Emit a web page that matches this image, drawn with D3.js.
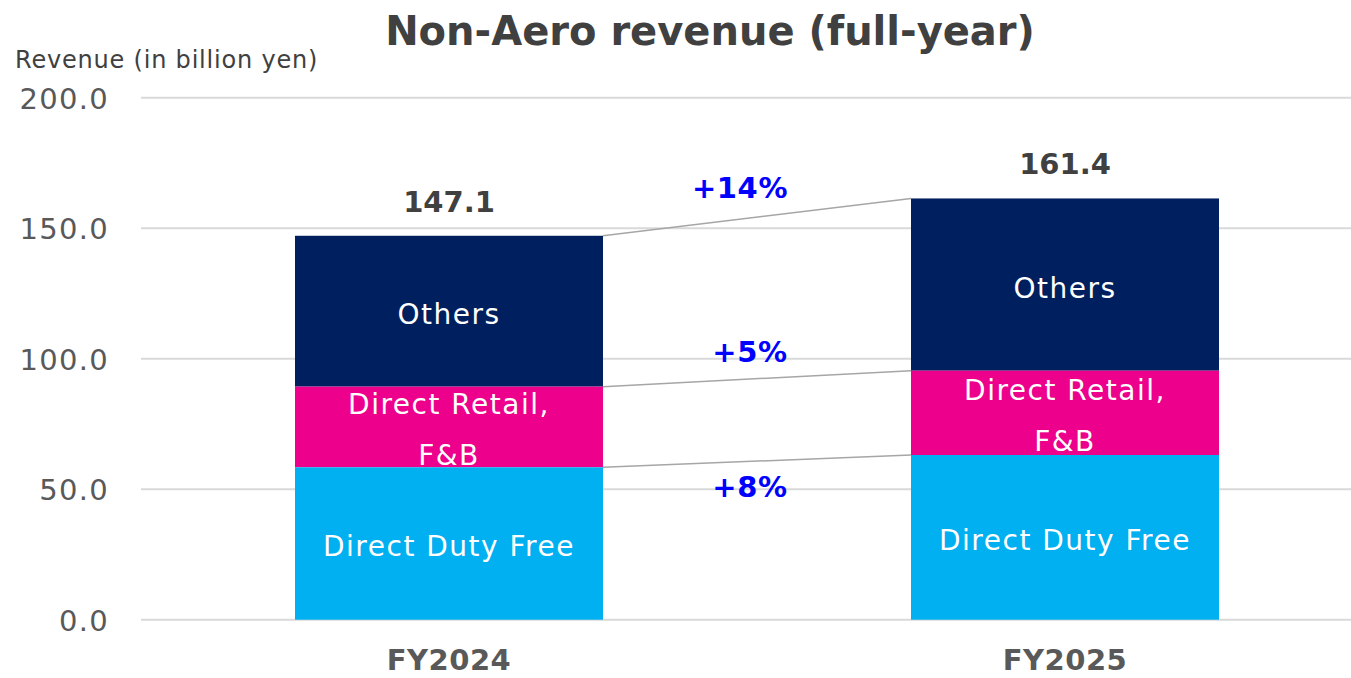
<!DOCTYPE html>
<html>
<head>
<meta charset="utf-8">
<script src="https://cdn.jsdelivr.net/npm/d3@7"></script>
<style>
  body { margin: 0; background: #fff; }
  text { font-family: "DejaVu Sans", Verdana, sans-serif; }
</style>
</head>
<body>
<div id="chart"></div>
<script>
// data
var years = ["FY2024", "FY2025"];
var segments = ["Direct Duty Free", "Direct Retail, F&B", "Others"];
var dutyFree = [58.4, 63.1];
var retail = [30.9, 32.3];
var others = [57.8, 66.0];
var totals = ["147.1", "161.4"];
var growth = ["+8%", "+5%", "+14%"];
var yTicks = [0, 50, 100, 150, 200];

var colors = ["#00b0f0", "#ec008c", "#001f5f"];
var segLabels = [["Direct Duty Free"], ["Direct Retail,", "F&B"], ["Others"]];

var W = 1351, H = 678;
var svg = d3.select("#chart").append("svg")
  .attr("width", W).attr("height", H);

var x = d3.scaleBand().domain(years).range([141, 1373]).paddingInner(0.5).paddingOuter(0.25);
var y = d3.scaleLinear().domain([0, 200]).range([619.7, 97.7]);

// gridlines
svg.append("g").selectAll("line").data(yTicks).enter().append("line")
  .attr("x1", 141).attr("x2", W)
  .attr("y1", function(d) { return y(d); }).attr("y2", function(d) { return y(d); })
  .attr("stroke", "#d9d9d9").attr("stroke-width", 2);

// y axis labels
var yAxis = svg.append("g").attr("transform", "translate(109,0)")
  .call(d3.axisLeft(y).tickValues(yTicks).tickFormat(d3.format(".1f")).tickSize(0).tickPadding(0));
yAxis.select(".domain").remove();
yAxis.selectAll("text").attr("fill", "#595959").style("font-size", "29px")
  .style("letter-spacing", "1.3px")
  .attr("dy", "0.36em").style("font-family", "DejaVu Sans");

// stack
var rows = years.map(function(yr, i) {
  return { year: yr, s0: dutyFree[i], s1: retail[i], s2: others[i] };
});
var stack = d3.stack().keys(["s0", "s1", "s2"])(rows);

// draw top segments first so lower ones clip overflowing labels
for (var k = stack.length - 1; k >= 0; k--) {
  var layer = stack[k];
  var g = svg.append("g");
  g.selectAll("rect").data(layer).enter().append("rect")
    .attr("x", function(d) { return x(d.data.year); })
    .attr("width", x.bandwidth())
    .attr("y", function(d) { return y(d[1]); })
    .attr("height", function(d) { return y(d[0]) - y(d[1]); })
    .attr("fill", colors[k]);
  var lines = segLabels[k];
  layer.forEach(function(d) {
    var cy = (y(d[0]) + y(d[1])) / 2;
    var cx = x(d.data.year) + x.bandwidth() / 2;
    var t = g.append("text")
      .attr("text-anchor", "middle")
      .attr("fill", "#fff")
      .style("font-size", "28px")
      .style("letter-spacing", "1.5px");
    if (lines.length === 1) {
      t.attr("x", cx).attr("y", cy + 13).text(lines[0]);
    } else {
      t.append("tspan").attr("x", cx).attr("y", cy - 13).text(lines[0]);
      t.append("tspan").attr("x", cx).attr("y", cy + 38).text(lines[1]);
    }
  });
}

// connector lines between bars
var x0 = x(years[0]) + x.bandwidth(), x1 = x(years[1]);
stack.forEach(function(layer) {
  svg.append("line")
    .attr("x1", x0).attr("y1", y(layer[0][1]))
    .attr("x2", x1).attr("y2", y(layer[1][1]))
    .attr("stroke", "#a6a6a6").attr("stroke-width", 1.5);
});

// growth labels
var growthPos = [[750, 497], [750, 362], [740, 198]];
growth.forEach(function(gr, i) {
  svg.append("text").attr("x", growthPos[i][0]).attr("y", growthPos[i][1])
    .attr("text-anchor", "middle").attr("fill", "#0000ff")
    .style("font-size", "29px").style("font-weight", "bold")
    .style("letter-spacing", "0.6px").text(gr);
});

// totals
rows.forEach(function(r, i) {
  svg.append("text")
    .attr("x", x(r.year) + x.bandwidth() / 2)
    .attr("y", y(r.s0 + r.s1 + r.s2) - 24)
    .attr("text-anchor", "middle").attr("fill", "#404040")
    .style("font-size", "29px").style("font-weight", "bold")
    .text(totals[i]);
});

// category labels
svg.append("g").selectAll("text").data(years).enter().append("text")
  .attr("x", function(d) { return x(d) + x.bandwidth() / 2; })
  .attr("y", 670)
  .attr("text-anchor", "middle").attr("fill", "#595959")
  .style("font-size", "29px").style("font-weight", "bold")
  .style("letter-spacing", "0.5px")
  .text(function(d) { return d; });

// titles
svg.append("text").attr("x", 710).attr("y", 45)
  .attr("text-anchor", "middle").attr("fill", "#404040")
  .style("font-size", "40px").style("font-weight", "bold")
  .text("Non-Aero revenue (full-year)");
svg.append("text").attr("x", 15).attr("y", 68)
  .attr("fill", "#404040").style("font-size", "24px")
  .style("letter-spacing", "0.8px")
  .text("Revenue (in billion yen)");
</script>
</body>
</html>
